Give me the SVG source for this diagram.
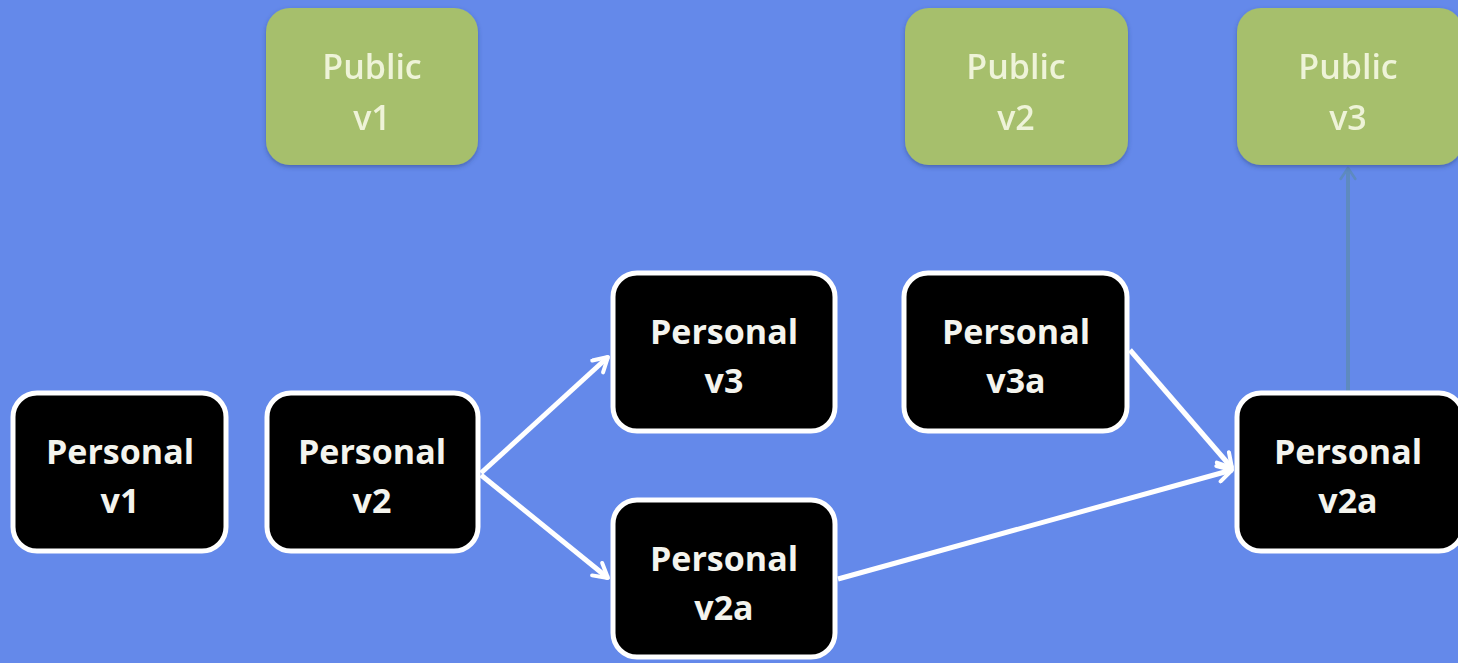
<svg xmlns="http://www.w3.org/2000/svg" width="1458" height="663" viewBox="0 0 1458 663">
<defs>
<style>
.pub rect{fill:#A6BF6C;}
.pub text{fill:#EEF3D8;font-family:"Open Sans","Liberation Sans",sans-serif;font-weight:600;font-size:34px;text-anchor:middle;}
.per rect{fill:#000;stroke:#fff;stroke-width:5;}
.per text{fill:#F4F4EE;font-family:"Open Sans","Liberation Sans",sans-serif;font-weight:bold;font-size:34px;text-anchor:middle;}
.wl{stroke:#fff;stroke-width:5;fill:none;}
</style>
<marker id="wa" viewBox="0 0 20 20" refX="17" refY="10" markerWidth="20" markerHeight="20" markerUnits="userSpaceOnUse" orient="auto">
<path d="M3 2 L17 10 L3 18" fill="none" stroke="#fff" stroke-width="4" stroke-linecap="round" stroke-linejoin="round"/>
</marker>
<marker id="ba" viewBox="0 0 20 20" refX="17" refY="10" markerWidth="18" markerHeight="18" markerUnits="userSpaceOnUse" orient="auto">
<path d="M5 2 L17 10 L5 18" fill="none" stroke="#5E8AC0" stroke-width="3" stroke-linecap="round" stroke-linejoin="round"/>
</marker>
<filter id="sh" x="-10%" y="-10%" width="120%" height="130%"><feDropShadow dx="0" dy="2" stdDeviation="2" flood-color="#2a3f7a" flood-opacity="0.5"/></filter>
</defs>
<rect width="1458" height="663" fill="#6489EA"/>
<g id="connectors">
<line class="wl" x1="481" y1="473" x2="608" y2="357" marker-end="url(#wa)"/>
<line class="wl" x1="481" y1="475" x2="608" y2="578" marker-end="url(#wa)"/>
<line class="wl" x1="838" y1="579" x2="1232" y2="470" marker-end="url(#wa)"/>
<line class="wl" x1="1130" y1="350" x2="1232" y2="468" marker-end="url(#wa)"/>
<line x1="1348" y1="392" x2="1348" y2="168" stroke="#5E8AC0" stroke-width="4" marker-end="url(#ba)"/>
</g>
<g id="public-v1" class="pub" filter="url(#sh)"><rect x="266" y="8" width="212" height="157" rx="24"/><text x="372" y="79">Public</text><text x="372" y="130">v1</text></g>
<g id="public-v2" class="pub" filter="url(#sh)"><rect x="905" y="8" width="223" height="157" rx="24"/><text x="1016" y="79">Public</text><text x="1016" y="130">v2</text></g>
<g id="public-v3" class="pub" filter="url(#sh)"><rect x="1237" y="8" width="226" height="157" rx="24"/><text x="1348" y="79">Public</text><text x="1348" y="130">v3</text></g>
<g id="personal-v1" class="per"><rect x="13" y="393" width="213" height="158" rx="24"/><text x="120" y="464">Personal</text><text x="120" y="513">v1</text></g>
<g id="personal-v2" class="per"><rect x="267" y="393" width="211" height="158" rx="24"/><text x="372" y="464">Personal</text><text x="372" y="513">v2</text></g>
<g id="personal-v3" class="per"><rect x="613" y="273" width="222" height="158" rx="24"/><text x="724" y="344">Personal</text><text x="724" y="393">v3</text></g>
<g id="personal-v3a" class="per"><rect x="904" y="273" width="223" height="158" rx="24"/><text x="1016" y="344">Personal</text><text x="1016" y="393">v3a</text></g>
<g id="personal-v2a-mid" class="per"><rect x="613" y="500" width="222" height="157" rx="24"/><text x="724" y="571">Personal</text><text x="724" y="620">v2a</text></g>
<g id="personal-v2a-right" class="per"><rect x="1237" y="393" width="226" height="158" rx="24"/><text x="1348" y="464">Personal</text><text x="1348" y="513">v2a</text></g>
</svg>
